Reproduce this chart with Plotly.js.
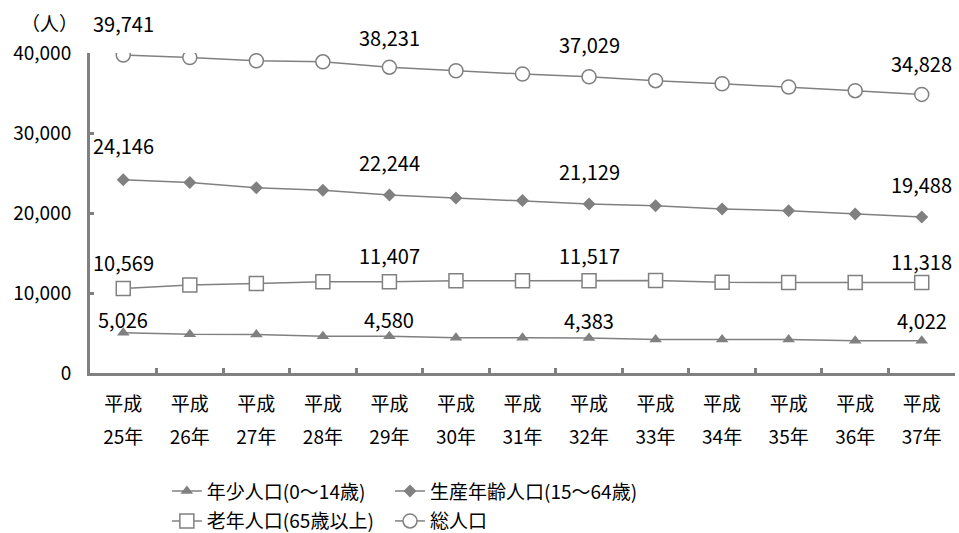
<!DOCTYPE html>
<html>
<head>
<meta charset="utf-8">
<script src="https://cdn.plot.ly/plotly-3.0.1.min.js"></script>
<style>html,body{margin:0;padding:0;background:#fff;}#chart{width:959px;height:533px;}</style>
</head>
<body>
<div id="chart"></div>
<script>
const categories = ["平成25年","平成26年","平成27年","平成28年","平成29年","平成30年","平成31年","平成32年","平成33年","平成34年","平成35年","平成36年","平成37年"];
const youth = [5026, 4830, 4820, 4600, 4580, 4400, 4400, 4383, 4200, 4190, 4180, 4030, 4022];
const working = [24146, 23800, 23150, 22850, 22244, 21880, 21550, 21129, 20900, 20500, 20280, 19880, 19488];
const elderly = [10569, 10990, 11200, 11400, 11407, 11530, 11520, 11517, 11560, 11330, 11320, 11320, 11318];
const total = [39741, 39440, 39030, 38900, 38231, 37780, 37370, 37029, 36540, 36160, 35750, 35290, 34828];
const labelIdx = [0, 4, 7, 12];
const seriesNames = ["年少人口(0～14歳)", "生産年齢人口(15～64歳)", "老年人口(65歳以上)", "総人口"];
const unitLabel = "（人）";

const eraText = categories.map(c => c.slice(0, 2));
const yearText = categories.map(c => c.slice(2));

const gray = "#808080";
const font = "'Noto Sans CJK JP', 'Noto Sans', sans-serif";

const traces = [
  {y: youth, name: seriesNames[0], legend: "legend", marker: {symbol: "triangle-up", size: 11, color: gray}},
  {y: working, name: seriesNames[1], legend: "legend2", marker: {symbol: "diamond", size: 10, color: gray}},
  {y: elderly, name: seriesNames[2], legend: "legend3", marker: {symbol: "square", size: 14, color: "#fff", line: {color: gray, width: 1.5}}},
  {y: total, name: seriesNames[3], legend: "legend4", xaxis: "x2", marker: {symbol: "circle", size: 14, color: "#fff", line: {color: gray, width: 1.5}}}
].map(t => Object.assign({x: categories, type: "scatter", mode: "lines+markers", line: {color: gray, width: 1.5}, hoverinfo: "skip"}, t));

const seriesData = [youth, working, elderly, total];
const yShifts = [[13, 17, 17, 20], [34, 33, 32, 33], [26, 26, 25, 21], [32, 30, 32, 31]];
const annotations = [];
seriesData.forEach((arr, s) => {
  labelIdx.forEach((i, k) => {
    annotations.push({x: categories[i], y: arr[i], text: arr[i].toLocaleString("en-US"), showarrow: false,
      yshift: yShifts[s][k], font: {family: font, size: 20, color: "#000"}});
  });
});
annotations.push({xref: "paper", yref: "paper", x: -0.0116, y: 1.047, xanchor: "right", yanchor: "bottom", text: unitLabel, showarrow: false,
  font: {family: font, size: 19, color: "#000"}});

const legendBase = {orientation: "h", xref: "container", yref: "container", xanchor: "left", yanchor: "top",
  font: {family: font, size: 19, color: "#000"}, itemclick: false, bgcolor: "rgba(0,0,0,0)"};
const col1 = 0.174, col2 = 0.4067, row1 = 0.114, row2 = 0.058;

const tickFont = {family: font, size: 19, color: "#000"};
const layout = {
  width: 959, height: 533,
  margin: {l: 90, r: 4, t: 53, b: 160},
  paper_bgcolor: "#fff", plot_bgcolor: "#fff",
  font: {family: font, size: 19, color: "#000"},
  showlegend: true,
  legend: Object.assign({}, legendBase, {x: col1, y: row1}),
  legend2: Object.assign({}, legendBase, {x: col2, y: row1}),
  legend3: Object.assign({}, legendBase, {x: col1, y: row2}),
  legend4: Object.assign({}, legendBase, {x: col2, y: row2}),
  xaxis: {type: "category", showgrid: false, zeroline: false, showline: true, linecolor: gray, linewidth: 3,
    ticks: "inside", ticklen: 5, tickwidth: 3, tickcolor: gray, tickson: "boundaries",
    tickmode: "array", tickvals: categories, ticktext: eraText, ticklabelstandoff: 12,
    tickfont: tickFont, range: [-0.5, 12.5]},
  xaxis2: {type: "category", overlaying: "x", anchor: "y", side: "bottom", range: [-0.5, 12.5], showgrid: false, zeroline: false,
    showline: false, ticks: "", tickmode: "array", tickvals: categories, ticktext: yearText,
    ticklabelstandoff: 51, tickfont: tickFont},
  yaxis: {range: [0, 40000], dtick: 10000, showgrid: false, zeroline: false, showline: true, linecolor: gray, linewidth: 3,
    ticks: "inside", ticklen: 4, tickwidth: 3, tickcolor: gray, tickformat: ",d", ticklabelstandoff: 12,
    tickfont: tickFont},
  annotations: annotations
};

Plotly.newPlot("chart", traces, layout, {staticPlot: true, displayModeBar: false});
</script>
</body>
</html>
